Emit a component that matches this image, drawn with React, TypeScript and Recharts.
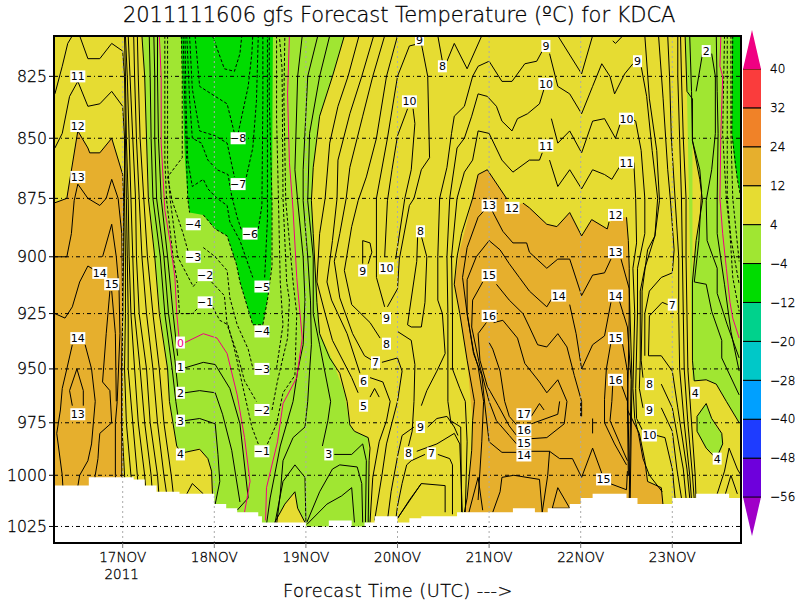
import React from 'react'
import {
    ComposedChart,
    BarChart,
    Bar,
    Area,
    Line,
    Scatter,
    XAxis,
    YAxis,
    ReferenceLine,
    ReferenceArea,
} from 'recharts'

type Pt = number[]

const TOP = 809.1
const BOTTOM = 1033.2
const pressureTicks = [825, 850, 875, 900, 925, 950, 975, 1000, 1025]
const dayTicks = [17, 18, 19, 20, 21, 22, 23]
const dayLabels = ['17NOV', '18NOV', '19NOV', '20NOV', '21NOV', '22NOV', '23NOV']

const cBlack = '#000000'
const yellow = '#E6DC32'
const orange = '#E6AF2D'
const lightGreen = '#A0E632'
const green = '#00DC00'

// fills: [day, upper hPa, lower hPa]
const yellowBase: Pt[] = [[16.25, TOP, BOTTOM], [23.75, TOP, BOTTOM]]
const orangeLeft: Pt[] = [[16.25, 877, BOTTOM], [16.39, 875, BOTTOM], [16.51, 847, BOTTOM], [16.62, 854, BOTTOM], [16.64, 856, BOTTOM], [16.75, 856, BOTTOM], [16.88, 850, BOTTOM], [17.0, 865, BOTTOM]]
const orangeMid: Pt[] = [[20.62, 912, 912], [20.68, 897, 925], [20.76, 885, 946], [20.82, 875, 974], [20.84, 870, 974], [20.88, 865, BOTTOM], [20.98, 863, BOTTOM], [21.19, 875, BOTTOM], [21.25, 879, BOTTOM], [21.37, 877, BOTTOM], [21.44, 879, BOTTOM], [21.63, 886, BOTTOM], [21.74, 887, BOTTOM], [21.88, 881, BOTTOM], [22.01, 891, BOTTOM], [22.12, 884, BOTTOM], [22.29, 888, BOTTOM], [22.35, 883, BOTTOM], [22.5, 883, BOTTOM], [22.52, 893, BOTTOM], [22.53, 969, BOTTOM], [22.64, 980, BOTTOM], [22.7, 993, BOTTOM], [22.73, 1003, BOTTOM], [22.88, 1006, BOTTOM], [22.9, 1015, BOTTOM]]
const orangeEdge: Pt[] = [[20.73, 1018, BOTTOM], [20.76, 1011, BOTTOM], [20.81, 989, BOTTOM], [20.84, 965, BOTTOM], [20.88, 965, BOTTOM]]
const orangeBulge: Pt[] = [[22.5, 883, BOTTOM], [22.53, 905, BOTTOM], [22.54, 969, BOTTOM]]
const lightMain: Pt[] = [[17.21, TOP, TOP], [17.24, TOP, 825], [17.26, TOP, 850], [17.29, TOP, 875], [17.35, TOP, 900], [17.41, TOP, 925], [17.49, TOP, 950], [17.51, TOP, 965], [17.59, TOP, 986], [17.68, TOP, 989], [17.84, TOP, 987], [17.93, TOP, 992], [17.97, TOP, 998], [17.99, TOP, 1009], [18.0, TOP, BOTTOM], [19.7, TOP, BOTTOM]]
const yellowNotch: Pt[] = [[19.06, 876, 876], [19.08, 862, 890], [19.15, 841, 934], [19.29, 825, 946], [19.42, TOP, 961], [19.48, TOP, 976], [19.53, TOP, 979], [19.68, TOP, 982], [19.71, TOP, BOTTOM]]
const yellowBump: Pt[] = [[18.66, 1023, BOTTOM], [18.77, 1014, BOTTOM], [18.88, 1008, BOTTOM], [18.91, 1016, BOTTOM], [18.99, 1023, BOTTOM]]
const lightRight: Pt[] = [[23.14, TOP, TOP], [23.16, TOP, 831], [23.22, TOP, 955], [23.24, TOP, 955.5], [23.37, TOP, 955], [23.48, TOP, 957], [23.59, TOP, 965], [23.75, TOP, 976]]
const yellowRightNotch: Pt[] = [[23.22, 851, 911], [23.26, 860, 893], [23.3, 867, 885], [23.33, 876, 876]]
const lightBlob: Pt[] = [[23.27, 972, 979], [23.33, 968, 984], [23.37, 966, 987], [23.43, 973, 989], [23.48, 977, 992], [23.54, 980, 987], [23.55, 985, 985]]
const greenMain: Pt[] = [[17.635, TOP, TOP], [17.65, TOP, 825], [17.67, TOP, 850], [17.68, TOP, 859], [17.71, TOP, 875], [17.73, TOP, 881], [17.88, TOP, 882], [18.01, TOP, 888], [18.14, TOP, 891], [18.24, TOP, 903], [18.28, TOP, 911], [18.42, TOP, 930], [18.53, TOP, 930], [18.58, TOP, 919], [18.62, TOP, 904], [18.63, TOP, 876], [18.64, TOP, TOP]]
const greenRight: Pt[] = [[23.65, TOP, 848], [23.68, TOP, 860], [23.71, TOP, 867], [23.75, TOP, 875]]

// surface, stepped, day and hPa
const surfaceDays = [16.25, 16.63, 17.12, 17.24, 17.37, 17.62, 18.0, 18.13, 18.25, 18.48, 18.52, 19.0, 19.25, 19.5, 19.64, 19.75, 20.0, 20.13, 20.26, 20.65, 21.26, 21.5, 21.64, 21.88, 22.0, 22.13, 22.5, 22.62, 23.0, 23.26, 23.62, 23.75]
const surfacePress = [1005, 1001, 1002, 1005, 1008, 1009, 1014, 1016, 1018, 1020, 1023, 1025, 1022, 1025, 1023, 1020, 1023, 1021, 1020, 1018, 1016, 1018, 1016, 1014, 1011, 1009, 1011, 1014, 1011, 1009, 1011, 1011]

// left bundle read at shared levels
const bundlePress = [809, 825, 850, 875, 900, 925, 950, 975, 1000, 1012]
const left5 = [17.16, 17.17, 17.19, 17.23, 17.27, 17.33, 17.4, 17.45, 17.53, 17.56]
const left6 = [17.12, 17.13, 17.15, 17.18, 17.21, 17.26, 17.33, 17.38, 17.45, 17.49]
const left7 = [17.06, 17.08, 17.11, 17.14, 17.15, 17.18, 17.26, 17.3, 17.38, 17.4]
const left8 = [17.03, 17.05, 17.07, 17.09, 17.11, 17.13, 17.19, 17.24, 17.31, 17.33]
const left9 = [17.02, 17.03, 17.04, 17.06, 17.07, 17.09, 17.13, 17.17, 17.24, 17.26]
const right6 = [22.95, 22.97, 22.99, 23.03, 23.07, 23.07, 23.08, 23.13, 23.19, 23.21]
const right5 = [23.06, 23.06, 23.08, 23.1, 23.11, 23.12, 23.13, 23.17, 23.22, 23.24]
const right4 = [23.09, 23.1, 23.12, 23.15, 23.15, 23.16, 23.17, 23.21, 23.25, 23.26]

// contours, [day, hPa]
const c10: Pt[] = [[16.26, 832], [16.34, 821], [16.4, 812], [16.45, 809], [16.53, 809], [16.62, 818], [16.75, 818], [16.88, 812], [17.0, 815], [17.02, 825], [17.03, 850], [17.04, 875], [17.05, 900], [17.06, 925], [17.06, 950], [17.11, 975], [17.16, 1000], [17.18, 1012]]
const c11: Pt[] = [[16.26, 854], [16.34, 848], [16.42, 833], [16.51, 827], [16.62, 837], [16.75, 836], [16.88, 831], [17.0, 837], [17.02, 850], [17.02, 875], [17.03, 900], [17.03, 925], [17.02, 950], [17.04, 975], [17.09, 1000], [17.12, 1012]]
const c12: Pt[] = [[16.25, 877], [16.39, 875], [16.51, 847], [16.62, 854], [16.64, 856], [16.75, 856], [16.88, 850], [17.0, 865], [17.01, 875], [17.01, 900], [17.0, 925], [16.99, 950], [16.99, 975], [17.02, 1000], [17.04, 1012]]
const c13: Pt[] = [[16.25, 900], [16.39, 900], [16.44, 890], [16.47, 876], [16.51, 869], [16.62, 875], [16.75, 878], [16.82, 875], [16.88, 867], [16.95, 875], [16.99, 890], [17.0, 925], [16.99, 950], [16.99, 975], [16.99, 1000], [17.0, 1012]]
const c14a: Pt[] = [[16.26, 925], [16.37, 927], [16.45, 922], [16.53, 911], [16.62, 904], [16.7, 906]]
const c14b: Pt[] = [[16.78, 900], [16.88, 886], [16.93, 900], [16.96, 914], [16.97, 934], [16.94, 965], [16.92, 975], [16.92, 1000], [16.93, 1012]]
const c15a: Pt[] = [[16.86, 915], [16.82, 934], [16.78, 956], [16.86, 960], [16.88, 975], [16.75, 980], [16.74, 985], [16.73, 992], [16.7, 1000], [16.68, 1008]]
const c15b: Pt[] = [[16.88, 915], [16.92, 934], [16.93, 965]]
const c14c: Pt[] = [[16.45, 939], [16.39, 950], [16.34, 959], [16.32, 969], [16.28, 980], [16.34, 1000], [16.35, 1008]]
const c14d: Pt[] = [[16.59, 939], [16.66, 950], [16.7, 965], [16.66, 985], [16.62, 993], [16.53, 1000], [16.5, 1008]]
const c13b: Pt[] = [[16.45, 967], [16.42, 960], [16.5, 950], [16.57, 960], [16.57, 967]]

const c4a: Pt[] = [[17.21, 809], [17.24, 825], [17.26, 850], [17.28, 875], [17.35, 900], [17.4, 925], [17.49, 950], [17.51, 965], [17.59, 986], [17.62, 988]]
const c4b: Pt[] = [[17.68, 989], [17.84, 987.5], [17.93, 992], [17.97, 998], [17.98, 1009], [17.98, 1017]]
const c3a: Pt[] = [[17.29, 809], [17.3, 825], [17.31, 850], [17.33, 875], [17.41, 900], [17.46, 925], [17.54, 950], [17.58, 965], [17.61, 974]]
const c3b: Pt[] = [[17.68, 974], [17.84, 973], [18.01, 975.5], [18.04, 990], [18.06, 1003], [18.01, 1014]]
const c2a: Pt[] = [[17.34, 809], [17.35, 825], [17.35, 850], [17.37, 875], [17.45, 900], [17.5, 925], [17.57, 946], [17.61, 962]]
const c2b: Pt[] = [[17.68, 961], [17.84, 960], [18.01, 961], [18.09, 971], [18.19, 988], [18.28, 1013]]
const c1a: Pt[] = [[17.38, 809], [17.38, 825], [17.39, 850], [17.42, 875], [17.49, 900], [17.55, 925], [17.6, 944]]
const c1b: Pt[] = [[17.68, 949.5], [17.88, 947], [18.01, 948], [18.17, 959], [18.28, 975.5], [18.37, 1011], [18.25, 1017]]
const c5small: Pt[] = [[17.7, 1009], [17.76, 1004], [17.88, 1009]]

const zeroA: Pt[] = [[17.4, 809], [17.42, 825], [17.42, 852], [17.46, 880], [17.52, 894], [17.57, 909], [17.59, 925], [17.62, 938]]
const zeroB: Pt[] = [[17.68, 938], [17.88, 934], [18.03, 936], [18.14, 943], [18.25, 962], [18.33, 982], [18.39, 1003], [18.33, 1018]]
const zeroC: Pt[] = [[18.82, 809], [18.8, 832], [18.82, 860], [18.86, 880], [18.9, 909], [18.96, 936], [18.9, 954], [18.75, 966], [18.69, 984], [18.57, 1006], [18.56, 1022]]
const zeroD: Pt[] = [[23.53, 809], [23.52, 821], [23.55, 825], [23.53, 848], [23.52, 875], [23.55, 890], [23.59, 905], [23.63, 920], [23.66, 927], [23.73, 936]]

const m1a: Pt[] = [[17.46, 809], [17.46, 834], [17.46, 859], [17.48, 876], [17.55, 900], [17.6, 912], [17.62, 925], [17.76, 925], [17.81, 923]]
const m2a: Pt[] = [[17.49, 809], [17.49, 834], [17.49, 861], [17.52, 876], [17.6, 900], [17.77, 913], [17.81, 911]]
const m3a: Pt[] = [[17.64, 809], [17.65, 825], [17.65, 858], [17.49, 866], [17.54, 876], [17.66, 890], [17.73, 900]]
const m4a: Pt[] = [[17.66, 809], [17.67, 825], [17.69, 850], [17.71, 875], [17.73, 881]]
const m4b: Pt[] = [[17.88, 882], [18.01, 888], [18.14, 891], [18.24, 903], [18.28, 911], [18.42, 930], [18.53, 930], [18.58, 919], [18.63, 904], [18.63, 876], [18.6, 834], [18.6, 809]]
const m3b: Pt[] = [[17.88, 896], [18.01, 900], [18.14, 906], [18.17, 918], [18.25, 930], [18.37, 941], [18.42, 949.5]]
const m3c: Pt[] = [[18.68, 949.5], [18.75, 930], [18.72, 911], [18.7, 875], [18.68, 842], [18.68, 809]]
const m2b: Pt[] = [[17.97, 911], [18.11, 917], [18.14, 930], [18.25, 943], [18.33, 955.5], [18.46, 965]]
const m2c: Pt[] = [[18.63, 969], [18.69, 955.5], [18.8, 936], [18.82, 919], [18.79, 911], [18.75, 875], [18.74, 822], [18.71, 809]]
const m1b: Pt[] = [[17.98, 922], [18.06, 928], [18.15, 930], [18.22, 941], [18.41, 977], [18.48, 985]]
const m1c: Pt[] = [[18.58, 985], [18.68, 975.5], [18.75, 961], [18.88, 953], [18.9, 925], [18.86, 911], [18.78, 876], [18.76, 834], [18.77, 809]]
const m5a: Pt[] = [[17.68, 809], [17.69, 834], [17.71, 859], [17.76, 870], [17.88, 867], [17.93, 871], [18.03, 875], [18.14, 878], [18.17, 885], [18.28, 893], [18.42, 909]]
const m5b: Pt[] = [[18.55, 909], [18.58, 884], [18.58, 809]]
const m6a: Pt[] = [[17.7, 809], [17.73, 834], [17.76, 850], [17.86, 852], [17.93, 859], [18.03, 863], [18.15, 865], [18.19, 874], [18.25, 883], [18.3, 889]]
const m6b: Pt[] = [[18.48, 888], [18.52, 878], [18.53, 835], [18.53, 809]]
const m7a: Pt[] = [[17.73, 809], [17.76, 830], [17.84, 847], [18.01, 849], [18.14, 852], [18.22, 866]]
const m7b: Pt[] = [[18.35, 866], [18.42, 854], [18.46, 835], [18.48, 809]]
const m8a: Pt[] = [[17.79, 809], [17.84, 829], [18.01, 833], [18.14, 836], [18.22, 848]]
const m8b: Pt[] = [[18.26, 848], [18.37, 829], [18.41, 816], [18.42, 809]]
const m9: Pt[] = [[17.98, 809], [18.11, 822], [18.22, 823], [18.28, 816], [18.3, 809]]
const m1r: Pt[] = [[23.57, 809], [23.55, 848], [23.59, 875], [23.63, 890], [23.66, 909], [23.73, 924]]
const m2r: Pt[] = [[23.6, 809], [23.6, 875], [23.64, 892], [23.73, 912]]
const m3r: Pt[] = [[23.64, 809], [23.64, 848], [23.66, 875], [23.73, 902]]
const m4r: Pt[] = [[23.66, 809], [23.65, 848], [23.71, 867], [23.75, 875]]

const c1c: Pt[] = [[18.96, 809], [18.91, 825], [18.88, 863], [18.91, 876], [18.97, 900], [18.99, 919], [18.97, 939], [18.91, 951], [18.86, 965], [18.72, 986], [18.61, 1011], [18.57, 1024]]
const c2c: Pt[] = [[19.13, 809], [19.02, 825], [18.97, 863], [18.97, 876], [19.02, 900], [19.05, 919], [19.06, 939], [19.04, 951], [19.02, 965], [18.99, 977], [18.86, 982], [18.75, 993], [18.72, 1009], [18.68, 1024]]
const c3c: Pt[] = [[19.26, 809], [19.15, 825], [19.04, 848], [19.02, 876], [19.08, 900], [19.08, 925], [19.15, 939], [19.27, 965], [19.24, 974], [19.18, 986]]
const c3d: Pt[] = [[19.31, 990], [19.5, 990], [19.62, 985], [19.66, 993], [19.65, 1023]]
const c4c: Pt[] = [[19.42, 809], [19.29, 825], [19.15, 841], [19.08, 862], [19.06, 876], [19.08, 890], [19.12, 920], [19.15, 934], [19.26, 945], [19.37, 952], [19.45, 965], [19.48, 976], [19.53, 979], [19.68, 982], [19.7, 987], [19.69, 993], [19.68, 1023]]
const bumpOuter: Pt[] = [[18.66, 1024], [18.75, 1003], [18.88, 995], [18.99, 1001], [19.0, 1023]]
const bumpInner: Pt[] = [[18.66, 1023], [18.77, 1014], [18.88, 1008], [18.91, 1016], [18.99, 1023]]
const loopA: Pt[] = [[19.01, 1023], [19.15, 1008], [19.29, 997], [19.37, 995], [19.56, 996], [19.61, 1004], [19.62, 1023]]
const loopB: Pt[] = [[19.01, 1024], [19.23, 1014], [19.39, 1010], [19.5, 1006], [19.53, 1023]]
const c5c: Pt[] = [[19.58, 809], [19.46, 825], [19.35, 837], [19.26, 852], [19.21, 875], [19.15, 890], [19.12, 911], [19.21, 925], [19.29, 937], [19.5, 954], [19.57, 961]]
const c5r: Pt[] = [[19.7, 963], [19.75, 959], [19.8, 963]]
const c6c: Pt[] = [[19.74, 809], [19.61, 825], [19.48, 840], [19.35, 859], [19.34, 875], [19.29, 893], [19.23, 911], [19.28, 919], [19.45, 934], [19.59, 952]]
const c6r: Pt[] = [[19.7, 954], [19.84, 956], [19.92, 965], [19.88, 974], [19.8, 984], [19.73, 1001], [19.7, 1023]]
const c7c: Pt[] = [[19.86, 809], [19.73, 825], [19.62, 841], [19.48, 862], [19.44, 875], [19.37, 890], [19.31, 902], [19.37, 918], [19.51, 934], [19.64, 944], [19.72, 946]]
const c7r: Pt[] = [[19.83, 947], [20.0, 945], [20.05, 951], [20.0, 965], [19.88, 985], [19.83, 1000], [19.75, 1022]]
const c8c: Pt[] = [[20.0, 809], [19.88, 825], [19.77, 850], [19.66, 866], [19.57, 876], [19.5, 887], [19.42, 906], [19.5, 921], [19.7, 929], [19.81, 936]]
const c8r: Pt[] = [[20.0, 933], [20.15, 937], [20.19, 948], [20.18, 965], [20.16, 979], [20.12, 986]]
const c8s: Pt[] = [[20.21, 988.5], [20.43, 985], [20.62, 980], [20.68, 985], [20.71, 1021]]
const c9c: Pt[] = [[20.24, 812], [20.13, 813], [20.0, 825], [19.89, 850], [19.77, 875], [19.77, 909], [19.86, 922]]
const c9r: Pt[] = [[20.26, 812], [20.33, 825], [20.35, 858], [20.26, 863], [20.18, 875], [20.13, 878], [20.02, 901], [20.0, 914], [19.89, 922]]
const c10m: Pt[] = [[20.11, 838], [20.0, 849], [19.94, 863], [19.89, 876], [19.86, 900]]
const c10r: Pt[] = [[20.17, 838], [20.19, 844], [20.15, 863], [20.08, 875], [19.98, 901]]
const c9loop: Pt[] = [[19.62, 903], [19.62, 893], [19.7, 894], [19.72, 898], [19.68, 903]]
const c8loop: Pt[] = [[20.22, 891], [20.21, 902], [20.13, 924], [20.11, 930], [20.15, 931], [20.26, 931], [20.3, 920], [20.32, 900], [20.26, 891]]
const c9low: Pt[] = [[20.33, 977], [20.43, 973], [20.54, 972], [20.62, 977], [20.66, 981]]
const c9lowL: Pt[] = [[20.18, 977], [20.05, 981], [20.0, 991], [19.93, 1008], [19.89, 1022]]
const c7low: Pt[] = [[20.3, 990], [20.15, 993], [20.1, 995], [20.05, 1004], [20.0, 1015], [19.98, 1022]]
const c7lowR: Pt[] = [[20.44, 990], [20.57, 992], [20.6, 995], [20.6, 1019]]
const c6low: Pt[] = [[20.26, 1004], [20.13, 1012], [20.0, 1021], [20.26, 1004], [20.52, 1005], [20.52, 1018]]
const vTopL: Pt[] = [[20.44, 809], [20.49, 819]]
const vTopR: Pt[] = [[20.54, 819], [20.62, 812], [20.76, 822], [20.92, 809]]
const vTop2: Pt[] = [[21.75, 809], [22.01, 824], [22.13, 809]]
const vTop3: Pt[] = [[22.35, 811], [22.38, 812], [22.46, 809]]
const w9: Pt[] = [[20.26, 967], [20.32, 960], [20.43, 951], [20.52, 943], [20.49, 925], [20.44, 919], [20.44, 900], [20.46, 875], [20.54, 862], [20.59, 848], [20.62, 841], [20.73, 837], [20.82, 825], [20.88, 821], [21.0, 819], [21.14, 827], [21.25, 827], [21.39, 820], [21.52, 819], [21.58, 815]]
const w9b: Pt[] = [[21.66, 816], [21.75, 829], [21.88, 832], [22.01, 840], [22.13, 829], [22.23, 820], [22.32, 825], [22.37, 832], [22.48, 824], [22.57, 820]]
const w9r: Pt[] = [[22.66, 821], [22.72, 833], [22.78, 855], [22.84, 875], [22.81, 891], [22.7, 905], [22.65, 915], [22.65, 946], [22.64, 959], [22.68, 968]]
const w9s: Pt[] = [[22.88, 968], [23.0, 979], [23.05, 997], [23.1, 1011]]
const w10: Pt[] = [[20.7, 1018], [20.69, 977], [20.58, 974], [20.55, 965], [20.55, 950], [20.55, 925], [20.54, 900], [20.57, 875], [20.65, 854], [20.73, 850], [20.81, 841], [20.88, 832], [20.98, 833], [21.08, 837], [21.14, 843], [21.25, 847], [21.31, 842], [21.42, 840], [21.55, 836], [21.6, 830]]
const w10b: Pt[] = [[21.68, 842], [21.75, 852], [21.88, 847], [22.01, 856], [22.13, 843], [22.26, 842], [22.38, 850], [22.44, 843]]
const w10r: Pt[] = [[22.55, 842], [22.6, 843], [22.66, 855], [22.7, 875], [22.7, 890], [22.62, 905], [22.62, 925], [22.6, 959], [22.61, 973], [22.68, 979]]
const w10s: Pt[] = [[22.83, 981], [22.92, 982], [23.0, 997], [23.03, 1011]]
const w11: Pt[] = [[20.74, 1018], [20.76, 984], [20.74, 965], [20.68, 959], [20.6, 950], [20.6, 925], [20.59, 900], [20.65, 875], [20.73, 864], [20.82, 859], [20.88, 847], [21.0, 848], [21.14, 859], [21.26, 864], [21.44, 859], [21.55, 859], [21.58, 856]]
const w11b: Pt[] = [[21.66, 859], [21.75, 870], [21.88, 863], [22.01, 871], [22.13, 863], [22.26, 865], [22.34, 867], [22.42, 862]]
const w11r: Pt[] = [[22.58, 860], [22.6, 875], [22.61, 894], [22.57, 905], [22.59, 925], [22.57, 959], [22.59, 973], [22.63, 980], [22.68, 992], [22.75, 1000], [22.89, 1008]]
const e12: Pt[] = [[20.73, 1018], [20.76, 1011], [20.81, 988], [20.82, 974], [20.84, 965], [20.76, 946], [20.68, 925], [20.62, 912], [20.65, 900], [20.7, 890], [20.82, 875], [20.88, 865], [20.98, 863], [21.19, 875]]
const e12b: Pt[] = [[21.37, 877], [21.44, 879], [21.63, 886], [21.74, 887], [21.88, 881], [22.01, 891], [22.12, 884], [22.29, 888], [22.31, 885]]
const e12c: Pt[] = [[22.5, 883], [22.52, 893], [22.53, 905], [22.53, 925], [22.52, 950], [22.51, 969], [22.64, 980], [22.7, 993], [22.73, 1003], [22.88, 1006], [22.9, 1015]]
const c13m: Pt[] = [[20.88, 1012], [20.92, 984], [20.94, 965], [20.88, 949], [20.83, 942], [20.76, 925], [20.71, 909], [20.76, 896], [20.88, 883], [20.95, 880]]
const c13r: Pt[] = [[21.03, 880], [21.15, 889], [21.26, 894], [21.41, 894], [21.44, 898], [21.63, 905], [21.75, 901], [21.88, 901], [22.01, 917], [22.13, 908], [22.26, 907], [22.33, 901]]
const c13s: Pt[] = [[22.44, 901], [22.53, 914], [22.56, 955], [22.54, 1012]]
const c14m: Pt[] = [[21.3, 989], [21.14, 989], [21.0, 984], [20.96, 969], [20.92, 953], [20.83, 943], [20.76, 925], [20.76, 910], [20.86, 900], [21.0, 893], [21.12, 897], [21.22, 903], [21.33, 909], [21.44, 915], [21.63, 922], [21.69, 918]]
const c14n: Pt[] = [[21.88, 921], [21.95, 934], [22.01, 950], [22.13, 939], [22.26, 935], [22.33, 920]]
const c14s: Pt[] = [[22.42, 919], [22.51, 931], [22.55, 955], [22.53, 1012]]
const c15m: Pt[] = [[21.3, 985], [21.22, 981], [21.08, 974], [21.0, 965], [20.9, 949], [20.81, 931], [20.82, 919], [20.93, 911]]
const c15r: Pt[] = [[21.08, 912], [21.22, 919], [21.37, 925], [21.44, 931], [21.53, 939], [21.63, 940], [21.75, 934], [21.85, 940], [21.93, 953], [22.01, 965], [22.01, 972]]
const c15k: Pt[] = [[22.33, 938], [22.28, 950], [22.26, 964], [22.26, 975], [22.37, 985], [22.5, 995]]
const c15s: Pt[] = [[22.45, 937], [22.51, 951], [22.53, 1000]]
const c16k: Pt[] = [[22.35, 957], [22.34, 965], [22.32, 974], [22.42, 984], [22.51, 993]]
const c16s: Pt[] = [[22.45, 958], [22.51, 965], [22.52, 1000]]
const c16m: Pt[] = [[21.3, 981], [21.22, 976.5], [21.1, 967], [20.98, 958], [20.9, 946], [20.88, 934], [20.97, 929]]
const c16r: Pt[] = [[21.05, 929], [21.15, 928], [21.31, 936], [21.39, 947.5], [21.55, 956], [21.63, 961], [21.75, 955], [21.85, 965], [21.82, 975.5], [21.63, 982], [21.46, 982.5]]
const c17m: Pt[] = [[21.3, 976], [21.22, 972], [21.17, 965], [21.12, 951], [21.04, 941], [21.0, 938]]
const c17r: Pt[] = [[21.46, 972], [21.55, 966], [21.6, 969]]
const c16b: Pt[] = [[21.77, 965], [21.75, 971], [21.46, 975.5]]
const c14e: Pt[] = [[21.44, 988.5], [21.66, 988.5], [21.77, 992], [21.91, 992], [22.01, 1001], [22.13, 987], [22.23, 999]]
const c14f: Pt[] = [[21.66, 988.5], [21.64, 1000], [21.58, 1018]]
const c15f: Pt[] = [[22.32, 1004], [22.5, 1007], [22.51, 998]]
const spike: Pt[] = [[22.13, 973], [22.13, 980]]
const spikeB: Pt[] = [[22.0, 965], [22.0, 972]]
const low1: Pt[] = [[21.75, 1006], [21.88, 1016], [21.69, 1016], [21.75, 1006]]
const low2: Pt[] = [[20.78, 1018], [20.88, 1001], [20.93, 1017]]
const low3: Pt[] = [[21.04, 1018], [21.12, 1008], [21.14, 1001], [21.27, 1000], [21.55, 1002], [21.58, 1018]]
const r8: Pt[] = [[22.7, 809], [22.75, 834], [22.83, 855], [22.86, 876], [22.81, 891], [22.73, 897], [22.67, 915], [22.67, 925], [22.66, 946], [22.68, 954]]
const r8s: Pt[] = [[22.88, 957], [23.0, 968], [23.12, 997], [23.15, 1011]]
const r7: Pt[] = [[22.85, 809], [22.9, 834], [22.95, 863], [22.98, 876], [23.02, 897], [23.0, 907], [22.88, 909], [22.75, 915], [22.7, 925], [22.7, 944]]
const r7s: Pt[] = [[22.95, 921], [22.89, 920], [22.75, 926], [22.74, 944], [22.88, 944], [23.0, 951], [23.06, 968], [23.16, 997], [23.19, 1011]]
const c4r: Pt[] = [[23.14, 809], [23.16, 831], [23.22, 834], [23.22, 851], [23.3, 867], [23.33, 876], [23.26, 893], [23.22, 911], [23.22, 946], [23.24, 955.5], [23.37, 955], [23.48, 957], [23.59, 965], [23.73, 975]]
const blob: Pt[] = [[23.37, 966], [23.27, 972], [23.27, 979], [23.37, 987], [23.48, 992], [23.55, 985], [23.54, 980], [23.43, 973], [23.37, 966]]
const peakA: Pt[] = [[23.49, 1009], [23.57, 998], [23.62, 987], [23.71, 997], [23.75, 1000]]
const peakB: Pt[] = [[23.58, 1009], [23.64, 1000], [23.71, 1009]]
const t3r: Pt[] = [[23.19, 809], [23.21, 831], [23.22, 851], [23.3, 863], [23.32, 872], [23.29, 893], [23.24, 911], [23.37, 912], [23.43, 924], [23.54, 937], [23.54, 945], [23.73, 962]]
const t2r: Pt[] = [[23.43, 816], [23.47, 825], [23.47, 848], [23.43, 863], [23.37, 876], [23.38, 893], [23.49, 905], [23.49, 916], [23.6, 930], [23.73, 945]]
const t2l: Pt[] = [[23.33, 816], [23.26, 831]]
const t1r: Pt[] = [[23.48, 809], [23.49, 831], [23.5, 848], [23.49, 875], [23.49, 890], [23.57, 912], [23.64, 933], [23.73, 951]]

const solidLines = [c10, c11, c12, c13, c14a, c14b, c15a, c15b, c14c, c14d, c13b, c4a, c4b, c3a, c3b, c2a, c2b, c1a, c1b, c5small, c1c, c2c, c3c, c3d, c4c, bumpOuter, bumpInner, loopA, loopB, c5c, c5r, c6c, c6r, c7c, c7r, c8c, c8r, c8s, c9c, c9r, c10m, c10r, c9loop, c8loop, c9low, c9lowL, c7low, c7lowR, c6low, vTopL, vTopR, vTop2, vTop3, w9, w9b, w9r, w9s, w10, w10b, w10r, w10s, w11, w11b, w11r, e12, e12b, e12c, c13m, c13r, c13s, c14m, c14n, c14s, c15m, c15r, c15k, c15s, c16k, c16s, c16m, c16r, c17m, c17r, c16b, c14e, c14f, c15f, spike, spikeB, low1, low2, low3, r8, r8s, r7, r7s, c4r, blob, peakA, peakB, t3r, t2r, t2l, t1r]
const bundleLines = [left5, left6, left7, left8, left9, right6, right5, right4]
const negLines = [m1a, m2a, m3a, m4a, m4b, m3b, m3c, m2b, m2c, m1b, m1c, m5a, m5b, m6a, m6b, m7a, m7b, m8a, m8b, m9, m1r, m2r, m3r, m4r]
const zeroLines = [zeroA, zeroB, zeroC, zeroD]

const labelDays = [16.51, 16.51, 16.51, 16.75, 16.88, 16.51, 16.51, 17.63, 17.63, 17.63, 17.63, 17.63, 17.77, 17.77, 17.9, 17.9, 18.26, 18.26, 18.39, 18.52, 18.52, 18.52, 18.52, 18.52, 19.25, 19.63, 19.63, 19.76, 19.88, 19.88, 19.62, 19.88, 20.25, 20.13, 20.24, 20.49, 20.25, 20.12, 20.37, 21.0, 21.25, 21.0, 21.0, 21.76, 21.38, 21.38, 21.38, 21.38, 21.62, 21.62, 21.62, 22.62, 22.5, 22.5, 22.38, 22.38, 22.38, 22.38, 22.38, 22.25, 22.75, 22.75, 22.75, 23.0, 23.25, 23.49, 23.37]
const labelPress = [825, 845, 866, 907, 912, 936, 971, 938, 949, 961, 974, 990, 886, 900, 908, 920, 850, 869, 890, 913, 933, 950, 969, 988.5, 990, 967, 955.5, 947, 938.5, 927, 906, 905, 889, 835, 810.5, 821, 977, 989.5, 989.5, 878, 879, 908, 926, 917, 971, 978.5, 984.5, 990.5, 813, 828, 853, 819, 842, 860, 882, 898, 917, 936, 955, 1002, 957, 969, 981, 921, 961, 992, 815]
const labelText = ['11', '12', '13', '14', '15', '14', '13', '0', '1', '2', '3', '4', '−4', '−3', '−2', '−1', '−8', '−7', '−6', '−5', '−4', '−3', '−2', '−1', '3', '5', '6', '7', '8', '9', '9', '10', '8', '10', '9', '8', '9', '8', '7', '13', '12', '15', '16', '14', '17', '16', '15', '14', '9', '10', '11', '9', '10', '11', '12', '13', '14', '15', '16', '15', '8', '9', '10', '7', '4', '4', '2']

const legendColors = ['#A000C8', '#6E00DC', '#1E3CFF', '#00A0FF', '#00C8C8', '#00D28C', '#00DC00', '#A0E632', '#E6DC32', '#E6AF2D', '#F08228', '#FA3C3C', '#F00082']
const legendLabels = ['-56', '-48', '-40', '-28', '-20', '-12', '-4', '4', '12', '24', '32', '40']

const range = (rows: Pt[]) => rows.map(r => ({ d: r[0], r: [r[1], r[2]] }))
const path = (rows: Pt[]) => rows.map(r => ({ d: r[0], p: r[1] }))
const bundle = (days: number[]) => days.map((d, i) => ({ d, p: bundlePress[i] }))
const terrain = surfaceDays.map((d, i) => ({ d, r: [surfacePress[i], BOTTOM] }))
const labels = labelText.map((text, i) => ({ d: labelDays[i], p: labelPress[i], text }))

const fills: [Pt[], string][] = [
    [yellowBase, yellow],
    [orangeLeft, orange],
    [orangeMid, orange],
    [orangeEdge, orange],
    [orangeBulge, orange],
    [lightMain, lightGreen],
    [yellowNotch, yellow],
    [yellowBump, yellow],
    [lightRight, lightGreen],
    [yellowRightNotch, yellow],
    [lightBlob, lightGreen],
    [greenMain, green],
    [greenRight, green],
]

const fontFamily = '"DejaVu Sans", sans-serif'
const inkText = { fontFamily, fontWeight: 200, fill: cBlack, stroke: cBlack, strokeWidth: 0.3 }

const DayTick = (props: any) => {
    const { x, y, payload } = props
    const i = dayTicks.indexOf(payload.value)
    return (
        <g>
            <text x={x} y={y + 12} textAnchor="middle" fontSize={13.5} {...inkText}>{dayLabels[i]}</text>
            {i === 0 && <text x={x - 1} y={y + 29} textAnchor="middle" fontSize={13.5} {...inkText}>2011</text>}
        </g>
    )
}

const ContourLabel = (props: any) => {
    const { cx, cy, payload } = props
    const w = payload.text.length > 1 ? 15 : 9
    return (
        <g>
            <rect x={cx - w / 2} y={cy - 6} width={w} height={12} fill="#fff" />
            <text x={cx} y={cy + 4} textAnchor="middle" fontFamily={fontFamily} fontSize={11} fill={payload.text === '0' ? '#F00082' : cBlack}>{payload.text}</text>
        </g>
    )
}

const legendRow = [Object.fromEntries(legendColors.map((_, i) => ['b' + i, 1]))]

const LegendBand = (props: any) => {
    const { x, y, width, height, index } = props
    if (index === 0) {
        return <polygon points={`${x},${y} ${x + width},${y} ${x + width / 2},${y + height}`} fill={legendColors[0]} />
    }
    if (index === legendColors.length - 1) {
        return <polygon points={`${x + width / 2},${y} ${x + width},${y + height} ${x},${y + height}`} fill={legendColors[index]} />
    }
    return (
        <g>
            <rect x={x} y={y} width={width} height={height} fill={legendColors[index]} />
            <line x1={x} x2={x + width} y1={y} y2={y} stroke={cBlack} />
            <line x1={x} x2={x + width} y1={y + height} y2={y + height} stroke={cBlack} />
        </g>
    )
}

const Colorbar = () => (
    <BarChart width={57} height={506} data={legendRow} margin={{ top: 0, right: 0, bottom: 0, left: 0 }} barCategoryGap={0}>
        <XAxis hide />
        <YAxis
            orientation="right"
            width={39}
            type="number"
            domain={[0, 13]}
            ticks={legendLabels.map((_, i) => i + 1)}
            interval={0}
            tickFormatter={(v: number) => legendLabels[v - 1].replace('-', '−')}
            axisLine={false}
            tickLine={false}
            tickMargin={3}
            tick={{ ...inkText, fontSize: 12 }}
        />
        {legendColors.map((_, i) => (
            <Bar key={i} dataKey={'b' + i} stackId="bar" isAnimationActive={false} shape={(p: any) => <LegendBand {...p} index={i} />} />
        ))}
    </BarChart>
)

export default function App() {
    return (
        <div style={{ position: 'absolute', left: 0, top: 0, width: 800, height: 600, background: '#fff', overflow: 'hidden' }}>
            <div style={{ position: 'absolute', left: 123, top: 3, fontFamily, fontSize: 21, fontWeight: 200, whiteSpace: 'nowrap', letterSpacing: -0.06, color: cBlack, WebkitTextStroke: '0.3px #000' }}>
                2011111606 gfs Forecast Temperature (ºC) for KDCA
            </div>
            <div style={{ position: 'absolute', left: 283, top: 581, height: 19, lineHeight: '19px', fontFamily, fontSize: 17.8, fontWeight: 200, whiteSpace: 'nowrap', letterSpacing: 0.45, color: cBlack, WebkitTextStroke: '0.3px #000' }}>
                Forecast Time (UTC) ---&gt;
            </div>
            <div style={{ position: 'absolute', left: 0, top: 0 }}>
                <ComposedChart width={800} height={600} margin={{ top: 36, right: 59, bottom: 0, left: 0 }}>
                    <XAxis
                        dataKey="d"
                        type="number"
                        domain={[16.25, 23.75]}
                        ticks={dayTicks}
                        allowDataOverflow
                        height={57}
                        axisLine={false}
                        tickSize={5}
                        tickLine={{ stroke: '#777' }}
                        tick={<DayTick />}
                    />
                    <YAxis
                        dataKey="p"
                        type="number"
                        scale="log"
                        reversed
                        domain={[TOP, BOTTOM]}
                        ticks={pressureTicks}
                        interval={0}
                        allowDataOverflow
                        width={54}
                        axisLine={false}
                        tickSize={5}
                        tickLine={{ stroke: cBlack }}
                        tick={{ ...inkText, fontSize: 15.7 }}
                    />
                    {fills.map(([rows, color], i) => (
                        <Area key={'f' + i} data={range(rows)} dataKey="r" type="linear" fill={color} fillOpacity={1} stroke="none" isAnimationActive={false} zIndex={100 + i} />
                    ))}
                    {bundleLines.map((days, i) => (
                        <Line key={'b' + i} data={bundle(days)} dataKey="p" stroke={cBlack} strokeWidth={1} dot={false} isAnimationActive={false} zIndex={200} />
                    ))}
                    {solidLines.map((rows, i) => (
                        <Line key={'s' + i} data={path(rows)} dataKey="p" stroke={cBlack} strokeWidth={1} dot={false} isAnimationActive={false} zIndex={200} />
                    ))}
                    {negLines.map((rows, i) => (
                        <Line key={'n' + i} data={path(rows)} dataKey="p" stroke={cBlack} strokeWidth={1} strokeDasharray="3 2" dot={false} isAnimationActive={false} zIndex={200} />
                    ))}
                    {zeroLines.map((rows, i) => (
                        <Line key={'z' + i} data={path(rows)} dataKey="p" stroke="#F00082" strokeWidth={1} dot={false} isAnimationActive={false} zIndex={200} />
                    ))}
                    <Area data={terrain} dataKey="r" type="stepAfter" fill="#fff" fillOpacity={1} stroke="none" isAnimationActive={false} zIndex={300} />
                    {dayTicks.map(d => (
                        <ReferenceLine key={d} x={d} stroke="#aaa" strokeDasharray="2 3" zIndex={310} />
                    ))}
                    {pressureTicks.map(p => (
                        <ReferenceLine key={p} y={p} stroke={cBlack} strokeDasharray="4 3 1 3" zIndex={320} />
                    ))}
                    <Scatter data={labels} dataKey="p" shape={<ContourLabel />} isAnimationActive={false} zIndex={330} />
                    <ReferenceArea x1={16.25} x2={23.75} y1={TOP} y2={BOTTOM} fill="none" stroke={cBlack} strokeWidth={2} zIndex={340} />
                </ComposedChart>
            </div>
            <div style={{ position: 'absolute', left: 743, top: 30 }}>
                <Colorbar />
            </div>
        </div>
    )
}
